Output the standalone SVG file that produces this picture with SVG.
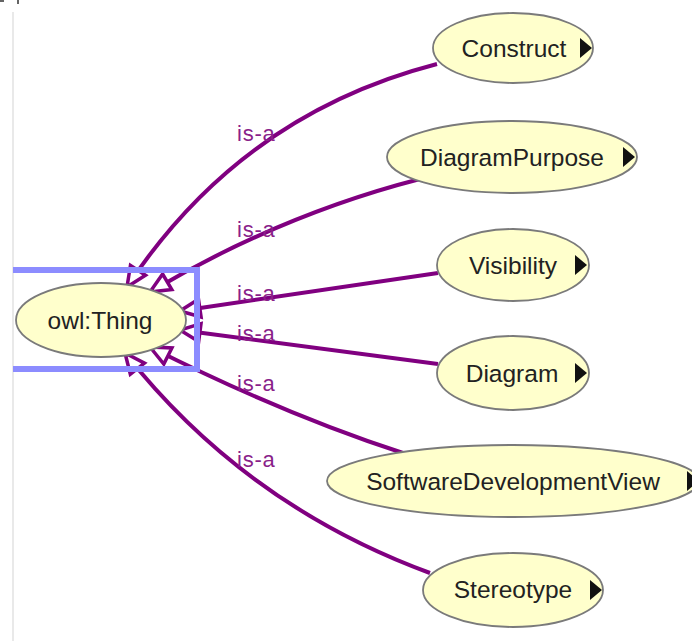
<svg xmlns="http://www.w3.org/2000/svg" width="692" height="641" viewBox="0 0 692 641">
<style>
.node ellipse{fill:#ffffcc;stroke:#7a7a7a;stroke-width:1.8}
.node text{font-family:"Liberation Sans",Arial,sans-serif;font-size:24.5px;fill:#222;text-anchor:middle}
.node polygon{fill:#111}
.edge{fill:none;stroke:#800080;stroke-width:4}
.lbl{font-family:"Liberation Sans",Arial,sans-serif;font-size:22px;fill:#8a1f8a;letter-spacing:0.8px}
</style>
<defs>
<marker id="isa" viewBox="-24 -13 28 26" refX="0" refY="0" markerWidth="28" markerHeight="26" markerUnits="userSpaceOnUse" orient="auto">
<path d="M0,0 L-20,-9 L-20,9 Z" fill="#fff" stroke="#800080" stroke-width="3.5" stroke-linejoin="miter"/>
</marker>
</defs>
<rect width="692" height="641" fill="#fff"/>
<line x1="13" y1="12" x2="13" y2="641" stroke="#e2e2e2" stroke-width="1.5"/>
<path d="M0,1 H4 M18,0 V4" stroke="#333" stroke-width="1.5"/>
<g id="connectors">
<path class="edge" d="M437,64 Q240,115 127,287" marker-end="url(#isa)"/>
<path class="edge" d="M420,179 Q280,215 150,292" marker-end="url(#isa)"/>
<path class="edge" d="M438,273 L180,311" marker-end="url(#isa)"/>
<path class="edge" d="M438,364 L180,330" marker-end="url(#isa)"/>
<path class="edge" d="M403,453 Q285,415 150,347" marker-end="url(#isa)"/>
<path class="edge" d="M430,573 Q245,505 125,353" marker-end="url(#isa)"/>
<text class="lbl" x="237" y="141">is-a</text>
<text class="lbl" x="237" y="237">is-a</text>
<text class="lbl" x="237" y="301">is-a</text>
<text class="lbl" x="237" y="341">is-a</text>
<text class="lbl" x="237" y="391">is-a</text>
<text class="lbl" x="237" y="467">is-a</text>
</g>
<g id="owlThing" class="node">
<ellipse cx="101" cy="320" rx="85" ry="37"/>
<text x="100" y="329">owl:Thing</text>
</g>
<path d="M13,270 H197 V369 H13" fill="none" stroke="#8c8cff" stroke-width="6"/>
<g id="Construct" class="node">
<ellipse cx="513" cy="48" rx="80" ry="35"/>
<text x="514" y="57">Construct</text>
<polygon points="580,38 580,58 592,48"/>
</g>
<g id="DiagramPurpose" class="node">
<ellipse cx="512" cy="157" rx="125" ry="36"/>
<text x="512" y="166">DiagramPurpose</text>
<polygon points="623,147 623,167 635,157"/>
</g>
<g id="Visibility" class="node">
<ellipse cx="513" cy="265" rx="76" ry="36"/>
<text x="513" y="274">Visibility</text>
<polygon points="575,255 575,275 587,265"/>
</g>
<g id="Diagram" class="node">
<ellipse cx="513" cy="373" rx="76" ry="37"/>
<text x="512" y="382">Diagram</text>
<polygon points="575,363 575,383 587,373"/>
</g>
<g id="SoftwareDevelopmentView" class="node">
<ellipse cx="513" cy="481" rx="186" ry="36"/>
<text x="513" y="490">SoftwareDevelopmentView</text>
<polygon points="687,471 687,491 699,481"/>
</g>
<g id="Stereotype" class="node">
<ellipse cx="513" cy="590" rx="90" ry="37"/>
<text x="513" y="598">Stereotype</text>
<polygon points="590,580 590,600 602,590"/>
</g>
</svg>
